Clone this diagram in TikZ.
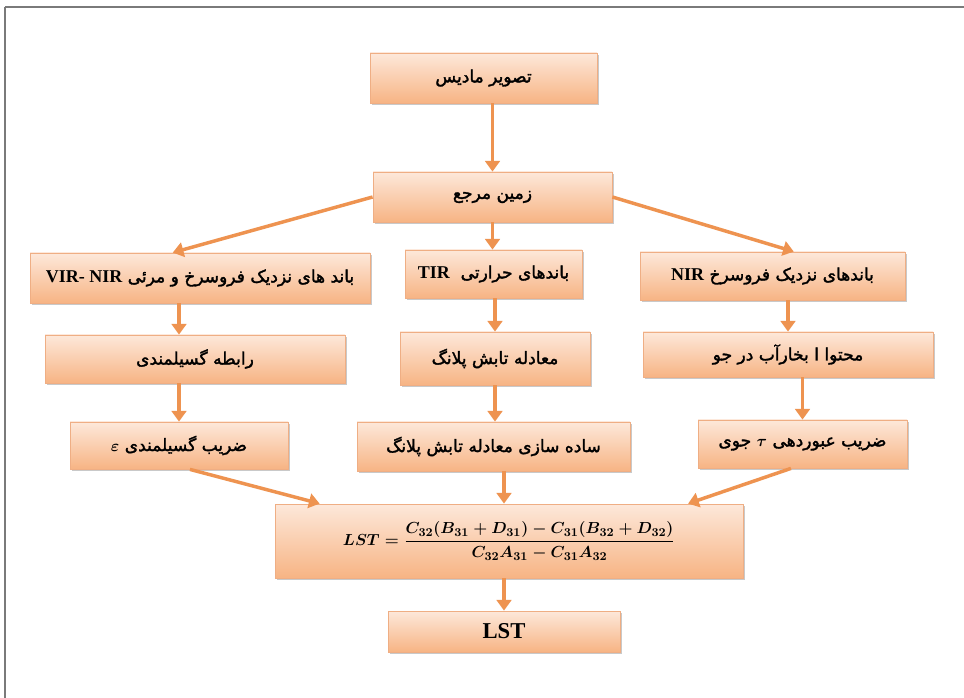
\documentclass[tikz,border=0pt]{standalone}
\usepackage{amsmath}
\usepackage{fontspec}
\usetikzlibrary{arrows.meta,shadows,calc}
\TeXXeTstate=1
\newfontfamily\fa[Script=Arabic,FakeBold=1.8]{DejaVu Sans}
\newfontfamily\lat{Liberation Serif}
\newcommand\fsF{\fontsize{12.5}{14}\selectfont}
\newcommand\fsL{\fontsize{17}{19}\selectfont}
\newcommand\lstformula{\mbox{\boldmath$\displaystyle LST=\frac{C_{32}(B_{31}+D_{31})-C_{31}(B_{32}+D_{32})}{C_{32}A_{31}-C_{31}A_{32}}$}}
\definecolor{pTop}{HTML}{FDE8DA}
\definecolor{pBot}{HTML}{F7B484}
\definecolor{boxline}{HTML}{EFAE84}
\definecolor{arrowc}{HTML}{EE9350}
\definecolor{frameC}{HTML}{7A7A7A}
\tikzset{
  box/.style={draw=boxline, line width=0.6pt, top color=pTop, bottom color=pBot,
    drop shadow={shadow xshift=1.2pt, shadow yshift=-1.6pt, opacity=0.35, fill=black!60},
    inner sep=0pt, text=black},
  sz/.style 2 args={minimum width=#1*0.75pt, minimum height=#2*0.75pt},
  fatext/.style={font=\fa\fontsize{12.8}{14}\selectfont},
  arr/.style={draw=arrowc, line width=2.6pt, -{Triangle[width=11pt,length=8pt]}}
}
\begin{document}
\begin{tikzpicture}[x=0.75pt,y=-0.75pt]
\useasboundingbox (0,0) rectangle (964,698);
\fill[white] (0,0) rectangle (964,698);
% frame
\draw[frameC, line width=1.6pt] (5,7) -- (964,7);
\draw[frameC, line width=1.1pt] (5,7) -- (5,698);
% nodes
\node[box, fatext, sz={227}{50}] (B1) at (483.5,78) {\beginR تصویر مادیس\endR};
\node[box, fatext, sz={239}{50}] (B2) at (492.5,197) {\beginR زمین مرجع\endR};
\node[box, fatext, sz={340}{50}] (L1) at (200,278) {\beginR باند های نزدیک فروسرخ و مرئی {\lat\bfseries\fontsize{13.5}{14}\selectfont\beginL VIR- NIR\endL}\endR};
\node[box, fatext, sz={300}{48}] (L2) at (195,359) {\beginR رابطه گسیلمندی\endR};
\node[box, fatext, sz={218}{47}] (L3) at (179,445.5) {\beginR ضریب گسیلمندی \beginL$\boldsymbol{\varepsilon}$\endL\endR};
\node[box, fatext, sz={177}{48}] (M1) at (493.5,274) {\beginR باندهای حرارتی \ {\lat\bfseries\fontsize{13.5}{14}\selectfont\beginL TIR\endL}\endR};
\node[box, fatext, sz={190}{53}] (M2) at (495,358.5) {\beginR معادله تابش پلانگ\endR};
\node[box, fatext, sz={273}{49}] (M3) at (493.5,446.5) {\beginR ساده سازی معادله تابش پلانگ\endR};
\node[box, fatext, sz={265}{48}] (R1) at (772.5,276) {\beginR باندهای نزدیک فروسرخ {\lat\bfseries\fontsize{13.5}{14}\selectfont\beginL NIR\endL}\endR};
\node[box, fatext, sz={290}{45}] (R2) at (788,354.5) {\beginR محتوا ا بخارآب در جو\endR};
\node[box, fatext, sz={209}{48}] (R3) at (802.5,444) {\beginR ضریب عبوردهی \beginL$\boldsymbol{\tau}$\endL\ جوی\endR};
\node[box, sz={468}{74}] (F) at (509,541) {\fsF\lstformula};
\node[box, sz={232}{41}] (LST) at (504,631.5) {\lat\bfseries\fsL LST};
% arrows
\draw[arr] (B1.south -| B2.center) -- (B2.north -| B2.center);
\draw[arr] (B2.west) -- ($(L1.north west)!0.42!(L1.north east)$);
\draw[arr] (B2.south -| B2.center) -- (M1.north -| B2.center);
\draw[arr] (B2.east) -- ($(R1.north west)!0.58!(R1.north east)$);
\draw[arr] (L1.south -| L3.center) -- (L2.north -| L3.center);
\draw[arr] (L2.south -| L3.center) -- (L3.north);
\draw[arr] (M1.south -| M2.center) -- (M2.north);
\draw[arr] (M2.south) -- (M3.north -| M2.center);
\draw[arr] (R1.south -| R2.center) -- (R2.north);
\draw[arr] (R2.south -| R3.center) -- (R3.north);
\draw[arr] ($(L3.south west)!0.55!(L3.south east)$) -- ($(F.north west)!0.096!(F.north east)$);
\draw[arr] (M3.south -| LST.center) -- (F.north -| LST.center);
\draw[arr] ($(R3.south west)!0.445!(R3.south east)$) -- ($(F.north west)!0.882!(F.north east)$);
\draw[arr] (F.south -| LST.center) -- (LST.north);
\end{tikzpicture}
\end{document}
